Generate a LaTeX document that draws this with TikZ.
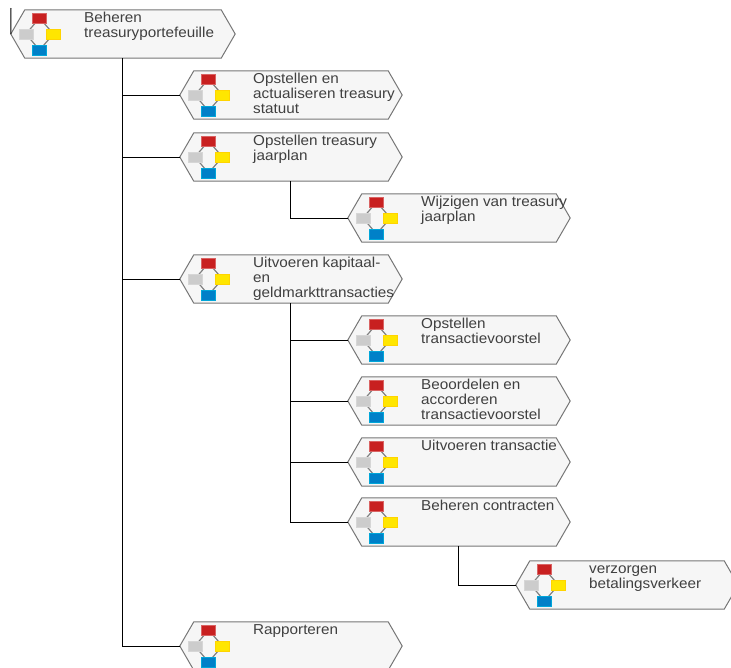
\documentclass[tikz,border=0pt]{standalone}
\usepackage{fontspec}
\setmainfont[FakeStretch=1.06]{Liberation Sans}
\usetikzlibrary{calc}
\definecolor{hexfill}{HTML}{F6F6F6}
\definecolor{hexline}{HTML}{777777}
\definecolor{txt}{HTML}{404040}
\definecolor{ired}{HTML}{C82020}
\definecolor{iyel}{HTML}{FFE600}
\definecolor{iyelb}{HTML}{FFD400}
\definecolor{igry}{HTML}{CCCCCC}
\definecolor{iblu}{HTML}{0080C8}
\tikzset{
  x=1pt,y=-1pt,
  procanchor/.style={rectangle,inner sep=0pt,minimum height=48pt},
  hexa/.style={draw=hexline,fill=hexfill,line width=1pt,line join=miter},
  proctext/.style={anchor=north west,inner sep=0pt,align=left,text=txt,font=\fontsize{14.4}{15}\selectfont},
  iconlink/.style={draw=black!50,line width=1.2pt},
  iconbox/.style={rectangle,inner sep=0pt,minimum width=14pt,minimum height=10pt,line width=.7pt},
  conn/.style={draw=black,line width=1pt}
}
% name, tip x, right tip x, top y, text
\newcommand{\procbox}[5]{%
  \node[procanchor,minimum width=#3pt-#2pt] (#1) at ({(#2+#3)/2},{#4+24}) {};
  \path[hexa] (#1.west) -- ($(#1.north west)+(14,0)$) -- ($(#1.north east)+(-14,0)$) -- (#1.east)
     -- ($(#1.south east)+(-14,0)$) -- ($(#1.south west)+(14,0)$) -- cycle;
  \coordinate (#1-r) at ({#2+28.5},{#4+8});
  \coordinate (#1-g) at ({#2+15},{#4+24});
  \coordinate (#1-y) at ({#2+42.5},{#4+24});
  \coordinate (#1-b) at ({#2+28.5},{#4+40});
  \path[iconlink] (#1-r) -- (#1-g) -- (#1-b) -- (#1-y) -- cycle;
  \node[iconbox,fill=ired,draw=ired!70] at (#1-r) {};
  \node[iconbox,fill=igry,draw=igry!80] at (#1-g) {};
  \node[iconbox,fill=iyel,draw=iyelb] at (#1-y) {};
  \node[iconbox,fill=iblu,draw=iblu!70!cyan] at (#1-b) {};
  \node[proctext] (#1-t) at ({#2+73},#4) {\rule{0pt}{12pt}#5};
}
\begin{document}
\begin{tikzpicture}
\clip (0,0) rectangle (731,667);
\fill[white] (0,0) rectangle (731,667);
\procbox{root}{11}{235}{10}{Beheren\\treasuryportefeuille}
\procbox{statuut}{180}{402}{71}{Opstellen en\\actualiseren treasury\\statuut}
\procbox{jaarplan}{180}{402}{133}{Opstellen treasury\\jaarplan}
\procbox{wijzigen}{348}{570}{194}{Wijzigen van treasury\\jaarplan}
\procbox{kapitaal}{180}{402}{255}{Uitvoeren kapitaal-\\en\\geldmarkttransacties}
\procbox{voorstel}{348}{570}{316}{Opstellen\\transactievoorstel}
\procbox{beoordelen}{348}{570}{377}{Beoordelen en\\accorderen\\transactievoorstel}
\procbox{transactie}{348}{570}{438}{Uitvoeren transactie}
\procbox{contracten}{348}{570}{498}{Beheren contracten}
\procbox{betaling}{516}{738}{561}{verzorgen\\betalingsverkeer}
\procbox{rapporteren}{180}{402}{622}{Rapporteren}
\coordinate (topfree) at (11,8);
\path[conn] (topfree) -- (root.west);
\path[conn] ([xshift=-1pt]root.south) |- (statuut.west);
\path[conn] ([xshift=-1pt]root.south) |- (jaarplan.west);
\path[conn] ([xshift=-1pt]root.south) |- (kapitaal.west);
\path[conn] ([xshift=-1pt]root.south) |- (rapporteren.west);
\path[conn] ([xshift=-1pt]jaarplan.south) |- (wijzigen.west);
\path[conn] ([xshift=-1pt]kapitaal.south) |- (voorstel.west);
\path[conn] ([xshift=-1pt]kapitaal.south) |- (beoordelen.west);
\path[conn] ([xshift=-1pt]kapitaal.south) |- (transactie.west);
\path[conn] ([xshift=-1pt]kapitaal.south) |- (contracten.west);
\path[conn] ([xshift=-1pt]contracten.south) |- (betaling.west);
\end{tikzpicture}
\end{document}
